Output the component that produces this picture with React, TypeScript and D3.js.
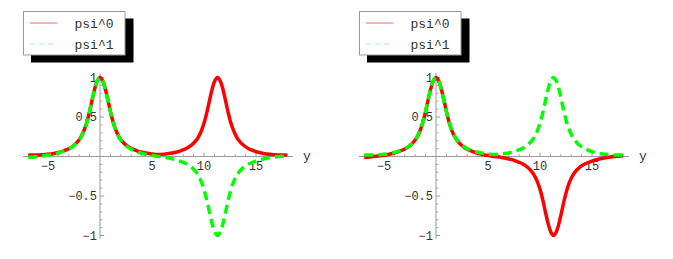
import React from 'react';
import * as d3 from 'd3';

// values (two peaks at y = 0 and y = 11.3)
const ys = [
  -6.9, -6, -5, -4.5, -4, -3.5, -3, -2.5, -2, -1.75, -1.5, -1.25, -1, -0.75, -0.5, -0.25,
  0, 0.25, 0.5, 0.75, 1, 1.25, 1.5, 1.75, 2, 2.5, 3, 3.5, 4, 4.5, 5, 5.65,
  6.3, 6.8, 7.3, 7.8, 8.3, 8.8, 9.3, 9.55, 9.8, 10.05, 10.3, 10.55, 10.8, 11.05,
  11.3, 11.55, 11.8, 12.05, 12.3, 12.55, 12.8, 13.05, 13.3, 13.8, 14.3, 14.8, 15.3,
  15.8, 16.3, 17.2, 18.0,
];

// symmetric combination
const psiSum = [
  0.02, 0.02, 0.028, 0.036, 0.05, 0.072, 0.099, 0.142, 0.212, 0.267, 0.342, 0.441, 0.571, 0.721, 0.861, 0.961,
  1.0, 0.961, 0.861, 0.721, 0.571, 0.442, 0.343, 0.268, 0.213, 0.144, 0.102, 0.075, 0.054, 0.04, 0.032, 0.025,
  0.032, 0.04, 0.054, 0.075, 0.102, 0.144, 0.213, 0.268, 0.343, 0.442, 0.571, 0.721, 0.861, 0.961,
  1.0, 0.961, 0.861, 0.721, 0.571, 0.441, 0.342, 0.267, 0.212, 0.142, 0.099, 0.072, 0.05,
  0.036, 0.028, 0.02, 0.02,
];

// antisymmetric combination
const psiDiff = [
  -0.012, 0.0, 0.016, 0.028, 0.044, 0.068, 0.095, 0.138, 0.208, 0.263, 0.338, 0.439, 0.569, 0.719, 0.859, 0.959,
  1.0, 0.959, 0.859, 0.719, 0.569, 0.438, 0.337, 0.262, 0.207, 0.136, 0.092, 0.065, 0.04, 0.024, 0.012, 0.0,
  -0.012, -0.024, -0.04, -0.065, -0.092, -0.136, -0.207, -0.262, -0.337, -0.438, -0.569, -0.719, -0.859, -0.959,
  -1.0, -0.959, -0.859, -0.719, -0.569, -0.439, -0.338, -0.263, -0.208, -0.138, -0.095, -0.068, -0.044,
  -0.028, -0.016, -0.001, 0.01,
];

const xMajor = [-5, 5, 10, 15];
const yMajor = [-1, -0.5, 0.5, 1];
const yLabels = ['\u22121', '\u22120.5', '0.5', '1'];
const legendNames = ['psi^0', 'psi^1'];

const panels = [
  { dx: 0, red: psiSum, green: psiDiff },
  { dx: 336, red: psiDiff, green: psiSum },
];

const mono = '"Liberation Mono", "DejaVu Sans Mono", monospace';

const x = d3.scaleLinear().domain([-5, 15]).range([48, 256]);
const y = d3.scaleLinear().domain([-1, 1]).range([235.5, 77.5]);

const line = d3
  .line<number>()
  .x((d, i) => x(ys[i]))
  .y((d) => y(d))
  .curve(d3.curveCatmullRom.alpha(0.5));

const xMinor = d3.range(-6, 19).filter((v) => !xMajor.includes(v) && v !== 0);
const yMinor = d3.range(-10, 11).map((v) => v / 10).filter((v) => Math.abs(v) > 0.01 && Math.abs(Math.abs(v) - 0.5) > 0.01 && Math.abs(Math.abs(v) - 1) > 0.01);

const Panel = ({ dx, red, green }) => {
  const y0 = y(0);
  const x0 = x(0);
  return (
    <g transform={`translate(${dx},0)`}>
      {/* axes */}
      <line x1={23} x2={293} y1={y0} y2={y0} stroke="#999" strokeWidth={1} />
      <line x1={x0} x2={x0} y1={73} y2={239} stroke="#999" strokeWidth={1} />
      {xMajor.map((v) => (
        <line key={'xm' + v} x1={x(v)} x2={x(v)} y1={y0} y2={y0 - 4} stroke="#999" />
      ))}
      {xMinor.map((v) => (
        <line key={'xn' + v} x1={x(v)} x2={x(v)} y1={y0} y2={y0 - 2.5} stroke="#aaa" />
      ))}
      {yMajor.map((v) => (
        <line key={'ym' + v} x1={x0} x2={x0 + 4} y1={y(v)} y2={y(v)} stroke="#999" />
      ))}
      {yMinor.map((v) => (
        <line key={'yn' + v} x1={x0} x2={x0 + 2.5} y1={y(v)} y2={y(v)} stroke="#aaa" />
      ))}
      {xMajor.map((v) => (
        <text key={'xl' + v} x={x(v)} y={169.5} textAnchor="middle" fontFamily={mono} fontSize={12} fill="#333">
          {v < 0 ? '\u2212' + Math.abs(v) : v}
        </text>
      ))}
      {yMajor.map((v, i) => (
        <text key={'yl' + v} x={x0 - 3} y={y(v) + 4} textAnchor="end" fontFamily={mono} fontSize={12} fill="#333">
          {yLabels[i]}
        </text>
      ))}
      <text x={303} y={160} fontFamily={mono} fontSize={13} fill="#333">y</text>

      {/* curves */}
      <path d={line(red)} fill="none" stroke="#ff0000" strokeWidth={3.5} strokeLinejoin="round" />
      <path d={line(green)} fill="none" stroke="#00ff00" strokeWidth={3.5} strokeDasharray="9,5" />

      {/* legend */}
      <rect x={31} y={18.5} width={102.5} height={44} fill="#000" />
      <rect x={23.5} y={11.5} width={101.5} height={43.5} fill="#fff" stroke="#999" />
      <line x1={30} x2={57.5} y1={23} y2={23} stroke="#ff6a6a" strokeWidth={1} />
      <line x1={30} x2={57.5} y1={44} y2={44} stroke="#99ff99" strokeWidth={1} strokeDasharray="5,4" />
      {legendNames.map((n, i) => (
        <text key={n} x={74.5} y={27.5 + i * 21} fontFamily={mono} fontSize={13} fill="#333">
          {n}
        </text>
      ))}
    </g>
  );
};

export default function App() {
  return (
    <svg
      width={673}
      height={259}
      style={{ position: 'absolute', left: 0, top: 0, background: '#fff' }}
    >
      {panels.map((p, i) => (
        <Panel key={i} {...p} />
      ))}
    </svg>
  );
}
